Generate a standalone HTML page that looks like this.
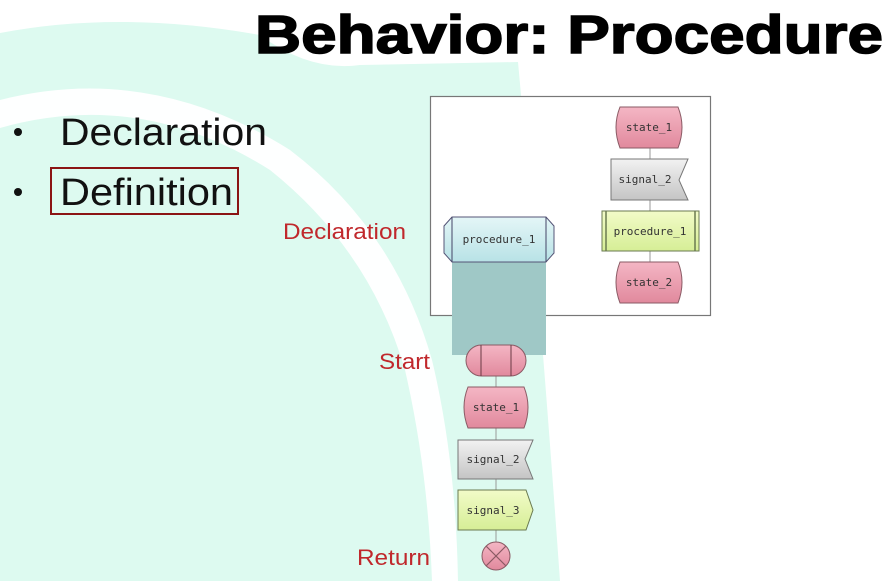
<!DOCTYPE html>
<html><head><meta charset="utf-8"><style>
html,body{margin:0;padding:0;background:#fff}
svg{display:block}
.m{font-family:"DejaVu Sans Mono","Liberation Mono",monospace;font-size:11px;fill:#333}
.r{font-family:"Liberation Sans",sans-serif;font-size:22px;fill:#c0282c}
</style></head><body>
<svg width="894" height="581" viewBox="0 0 894 581" xmlns="http://www.w3.org/2000/svg">
<defs>
<linearGradient id="pk" x1="0" y1="0" x2="0" y2="1"><stop offset="0" stop-color="#f4b6c4"/><stop offset="1" stop-color="#e1899d"/></linearGradient>
<linearGradient id="gy" x1="0" y1="0" x2="0" y2="1"><stop offset="0" stop-color="#f2f2f2"/><stop offset="1" stop-color="#c4c4c4"/></linearGradient>
<linearGradient id="gr" x1="0" y1="0" x2="0" y2="1"><stop offset="0" stop-color="#f2fbc8"/><stop offset="1" stop-color="#d6ee96"/></linearGradient>
<linearGradient id="bl" x1="0" y1="0" x2="0" y2="1"><stop offset="0" stop-color="#e4f6f7"/><stop offset="1" stop-color="#b8e2e6"/></linearGradient>
</defs>
<path d="M0,33 Q120,10 260,35 Q310,72 360,65 L518,62 Q540,300 560,581 L0,581 Z" fill="#ddfaf0"/>
<path d="M0,128 Q140,88 270,170 Q370,250 405,370 Q428,470 432,581 L458,581 Q456,460 432,360 Q395,230 290,150 Q150,62 0,100 Z" fill="#ffffff" opacity="0.95"/>
<text x="255" y="53" font-family="Liberation Sans,sans-serif" font-weight="bold" font-size="54" fill="#000" stroke="#000" stroke-width="1.5" textLength="628" lengthAdjust="spacingAndGlyphs">Behavior: Procedure</text>
<circle cx="18" cy="132" r="4" fill="#111"/>
<circle cx="18" cy="192" r="4" fill="#111"/>
<text x="60" y="145" font-family="Liberation Sans,sans-serif" font-size="38" fill="#111" textLength="207" lengthAdjust="spacingAndGlyphs">Declaration</text>
<text x="60" y="205" font-family="Liberation Sans,sans-serif" font-size="38" fill="#111" textLength="173" lengthAdjust="spacingAndGlyphs">Definition</text>
<rect x="51" y="168" width="187" height="46" fill="none" stroke="#8b1414" stroke-width="2"/>
<text class="r" x="283" y="239" textLength="123" lengthAdjust="spacingAndGlyphs">Declaration</text>
<text class="r" x="379" y="369" textLength="51" lengthAdjust="spacingAndGlyphs">Start</text>
<text class="r" x="357" y="565" textLength="73" lengthAdjust="spacingAndGlyphs">Return</text>
<rect x="430.5" y="96.5" width="280" height="219" fill="#fff" stroke="#777" stroke-width="1.2"/>
<line x1="650" y1="148" x2="650" y2="262" stroke="#999"/>
<path d="M620,107 L678,107 Q686,127 678,148 L620,148 Q612,127 620,107 Z" fill="url(#pk)" stroke="#8a5a64"/>
<text class="m" x="649" y="131" text-anchor="middle">state_1</text>
<path d="M611,159 L688,159 L679,180 L688,200 L611,200 Z" fill="url(#gy)" stroke="#777"/>
<text class="m" x="645" y="183" text-anchor="middle">signal_2</text>
<rect x="602" y="211" width="97" height="40" fill="url(#gr)" stroke="#6a7a50"/>
<line x1="606" y1="211" x2="606" y2="251" stroke="#6a7a50" stroke-width="1.5"/>
<line x1="695" y1="211" x2="695" y2="251" stroke="#6a7a50" stroke-width="1.5"/>
<text class="m" x="650" y="235" text-anchor="middle">procedure_1</text>
<path d="M620,262 L678,262 Q686,282 678,303 L620,303 Q612,282 620,262 Z" fill="url(#pk)" stroke="#8a5a64"/>
<text class="m" x="649" y="286" text-anchor="middle">state_2</text>
<rect x="452" y="262" width="94" height="93" fill="#9fc8c6"/>
<path d="M452,217 L546,217 L554,226 L554,253 L546,262 L452,262 L444,253 L444,226 Z" fill="url(#bl)" stroke="#557"/>
<line x1="452" y1="217" x2="452" y2="262" stroke="#446"/>
<line x1="546" y1="217" x2="546" y2="262" stroke="#446"/>
<text class="m" x="499" y="243" text-anchor="middle">procedure_1</text>
<line x1="496" y1="376" x2="496" y2="542" stroke="#999"/>
<rect x="466" y="345" width="60" height="31" rx="15.5" fill="url(#pk)" stroke="#8a5a64"/>
<line x1="481" y1="345" x2="481" y2="376" stroke="#6a3a44"/>
<line x1="511" y1="345" x2="511" y2="376" stroke="#6a3a44"/>
<path d="M468,387 L524,387 Q532,407 524,428 L468,428 Q460,407 468,387 Z" fill="url(#pk)" stroke="#8a5a64"/>
<text class="m" x="496" y="411" text-anchor="middle">state_1</text>
<path d="M458,440 L533,440 L525,459 L533,479 L458,479 Z" fill="url(#gy)" stroke="#777"/>
<text class="m" x="493" y="463" text-anchor="middle">signal_2</text>
<path d="M458,490 L526,490 L533,510 L526,530 L458,530 Z" fill="url(#gr)" stroke="#6a7a50"/>
<text class="m" x="493" y="514" text-anchor="middle">signal_3</text>
<circle cx="496" cy="556" r="14" fill="url(#pk)" stroke="#8a5a64"/>
<line x1="486" y1="546" x2="506" y2="566" stroke="#8a5a64" stroke-width="1.2"/>
<line x1="506" y1="546" x2="486" y2="566" stroke="#8a5a64" stroke-width="1.2"/>
</svg>
</body></html>
